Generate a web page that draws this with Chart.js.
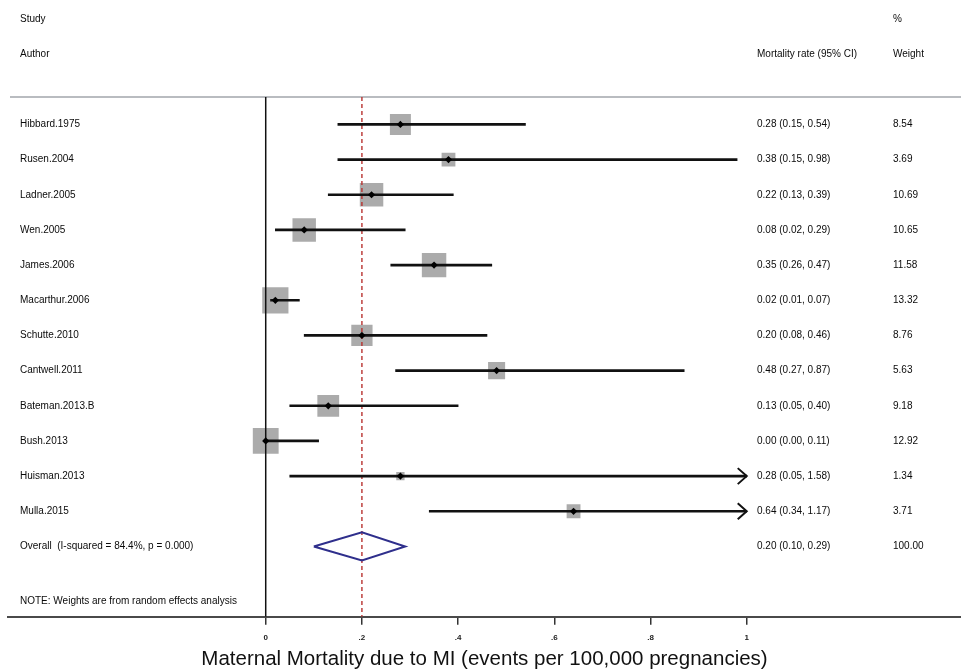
<!DOCTYPE html>
<html>
<head>
<meta charset="utf-8">
<title>Maternal Mortality due to MI - forest plot</title>
<script src="https://cdn.jsdelivr.net/npm/chart.js@4.4.1/dist/chart.umd.min.js"></script>
<style>
  html, body { margin: 0; padding: 0; background: #fff; }
  #forest { display: block; }
</style>
</head>
<body>
<canvas id="forest" width="961" height="669"></canvas>
<script>
// study rows, top to bottom
const studies = ['Hibbard.1975', 'Rusen.2004', 'Ladner.2005', 'Wen.2005', 'James.2006', 'Macarthur.2006',
  'Schutte.2010', 'Cantwell.2011', 'Bateman.2013.B', 'Bush.2013', 'Huisman.2013', 'Mulla.2015'];
const rates   = [0.28, 0.38, 0.22, 0.08, 0.35, 0.02, 0.20, 0.48, 0.13, 0.00, 0.28, 0.64];
const lower   = [0.15, 0.15, 0.13, 0.02, 0.26, 0.01, 0.08, 0.27, 0.05, 0.00, 0.05, 0.34];
const upper   = [0.54, 0.98, 0.39, 0.29, 0.47, 0.07, 0.46, 0.87, 0.40, 0.11, 1.58, 1.17];
const weights = [8.54, 3.69, 10.69, 10.65, 11.58, 13.32, 8.76, 5.63, 9.18, 12.92, 1.34, 3.71];

const overallLabel = 'Overall  (I-squared = 84.4%, p = 0.000)';
const overallRate = 0.20;
const overallLower = 0.10;
const overallUpper = 0.29;
const overallWeight = 100.00;

const xTicks = [0, 0.2, 0.4, 0.6, 0.8, 1];
const xShownMax = 1;   // intervals past this get an arrow
const noteText = 'NOTE: Weights are from random effects analysis';

// scale limits (the plot area spans nearly the whole width, the table sits inside it)
const X_MIN = -0.5358, X_MAX = 1.4455;
const Y_MIN = 0.22, Y_MAX = 15;
const overallRow = studies.length + 1;
const FONT = '"Liberation Sans", Arial, Helvetica, sans-serif';

const ciData = studies.map((s, i) => ({ y: i + 1, x: [lower[i], Math.min(upper[i], xShownMax)] }));
const estData = studies.map((s, i) => ({ x: rates[i], y: i + 1 }));

const fmt = v => v.toFixed(2);

const tablePlugin = {
  id: 'tablePlugin',
  beforeDatasetsDraw(chart) {
    const ctx = chart.ctx, area = chart.chartArea;
    ctx.save();
    ctx.strokeStyle = '#b9bcc0';
    ctx.lineWidth = 2;
    ctx.beginPath();
    ctx.moveTo(area.left + 2, area.top);
    ctx.lineTo(chart.width, area.top);
    ctx.stroke();
    ctx.restore();
  },
  afterDatasetsDraw(chart) {
    const ctx = chart.ctx, xs = chart.scales.x, ys = chart.scales.y;
    ctx.save();
    ctx.strokeStyle = '#111';
    ctx.lineWidth = 2;
    upper.forEach((hi, i) => {
      if (hi <= xShownMax) return;
      const tx = xs.getPixelForValue(xShownMax);
      const ty = ys.getPixelForValue(i + 1);
      ctx.beginPath();
      ctx.moveTo(tx - 9, ty - 8);
      ctx.lineTo(tx, ty);
      ctx.lineTo(tx - 9, ty + 8);
      ctx.stroke();
    });
    ctx.restore();
  },
  afterDraw(chart) {
    const ctx = chart.ctx, ys = chart.scales.y;
    const colLabel = 20, colRate = 757, colWeight = 893;
    ctx.save();
    ctx.fillStyle = '#0a0a0a';
    ctx.font = '10px ' + FONT;
    ctx.textBaseline = 'middle';
    ctx.textAlign = 'left';
    const put = (t, x, row) => ctx.fillText(t, x, ys.getPixelForValue(row));
    put('Study', colLabel, -2);
    put('%', colWeight, -2);
    put('Author', colLabel, -1);
    put('Mortality rate (95% CI)', colRate, -1);
    put('Weight', colWeight, -1);
    studies.forEach((s, i) => {
      put(s, colLabel, i + 1);
      put(fmt(rates[i]) + ' (' + fmt(lower[i]) + ', ' + fmt(upper[i]) + ')', colRate, i + 1);
      put(fmt(weights[i]), colWeight, i + 1);
    });
    put(overallLabel, colLabel, overallRow);
    put(fmt(overallRate) + ' (' + fmt(overallLower) + ', ' + fmt(overallUpper) + ')', colRate, overallRow);
    put(fmt(overallWeight), colWeight, overallRow);
    put(noteText, colLabel, 14.55);
    ctx.restore();
  }
};

new Chart(document.getElementById('forest'), {
  type: 'scatter',
  data: {
    datasets: [
      {
        label: 'estimate',
        data: estData,
        pointStyle: 'rectRot',
        pointRadius: 3.6,
        backgroundColor: '#000',
        borderWidth: 0,
        order: 0
      },
      {
        type: 'bar',
        label: 'ci',
        indexAxis: 'y',
        data: ciData,
        barThickness: 2,
        backgroundColor: '#111',
        borderWidth: 0,
        order: 1
      },
      {
        label: 'overall',
        data: [
          { x: overallLower, y: overallRow },
          { x: overallRate, y: overallRow - 0.4 },
          { x: overallUpper, y: overallRow },
          { x: overallRate, y: overallRow + 0.4 },
          { x: overallLower, y: overallRow }
        ],
        showLine: true,
        borderColor: '#2f2f8c',
        borderWidth: 2,
        borderJoinStyle: 'miter',
        pointRadius: 0,
        fill: false,
        order: 1
      },
      {
        label: 'overall line',
        data: [{ x: overallRate, y: Y_MIN }, { x: overallRate, y: Y_MAX }],
        showLine: true,
        borderColor: '#b8312f',
        borderWidth: 1.4,
        borderDash: [4, 3],
        pointRadius: 0,
        order: 2
      },
      {
        label: 'null line',
        data: [{ x: 0, y: Y_MIN }, { x: 0, y: Y_MAX }],
        showLine: true,
        borderColor: '#111',
        borderWidth: 1.5,
        pointRadius: 0,
        order: 2
      },
      {
        label: 'weight',
        data: estData,
        pointStyle: 'rect',
        pointRadius: c => 5.08 * Math.sqrt(weights[c.dataIndex] || 0),
        backgroundColor: '#ababab',
        borderWidth: 0,
        order: 3
      }
    ]
  },
  options: {
    responsive: false,
    animation: false,
    events: [],
    layout: { autoPadding: false, padding: { top: 97, left: 8, right: 0, bottom: 0 } },
    plugins: {
      legend: { display: false },
      tooltip: { enabled: false }
    },
    scales: {
      x: {
        type: 'linear',
        min: X_MIN,
        max: X_MAX,
        offset: false,
        afterBuildTicks: scale => { scale.ticks = xTicks.map(v => ({ value: v })); },
        grid: { display: true, drawOnChartArea: false, drawTicks: true, tickLength: 8, color: '#333', lineWidth: 1.5, offset: false },
        border: { display: true, color: '#4a4a4a', width: 2 },
        ticks: {
          autoSkip: false,
          maxRotation: 0,
          padding: 8,
          color: '#222',
          font: { family: FONT, size: 8, weight: 'bold' },
          callback: v => v === 0 ? '0' : v === 1 ? '1' : String(+v.toFixed(1)).replace(/^0/, '')
        },
        title: {
          display: true,
          text: 'Maternal Mortality due to MI (events per 100,000 pregnancies)',
          color: '#111',
          font: { family: FONT, size: 20.5 },
          padding: { top: -3.5, bottom: -2.5 }
        }
      },
      y: {
        type: 'linear',
        reverse: true,
        min: Y_MIN,
        max: Y_MAX,
        offset: false,
        display: false,
        grid: { offset: false }
      }
    }
  },
  plugins: [tablePlugin]
});
</script>
</body>
</html>
